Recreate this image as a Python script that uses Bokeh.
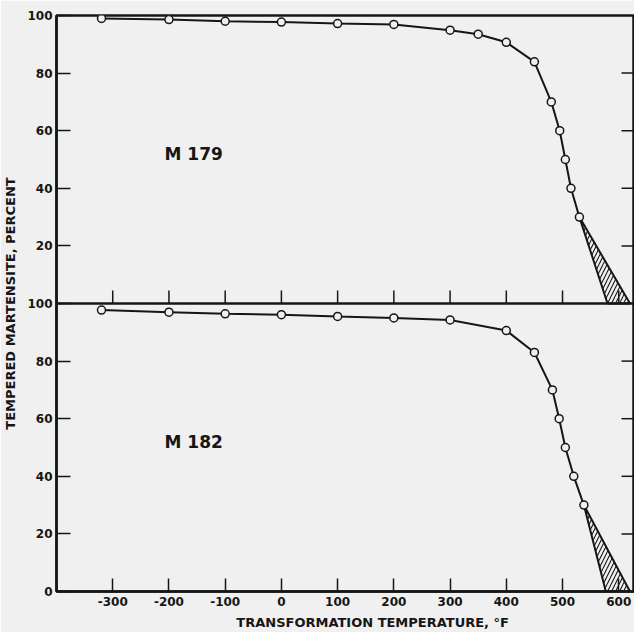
import math
from bokeh.plotting import figure
from bokeh.models import Range1d, FixedTicker, Span, Label
from bokeh.embed import file_html
from bokeh.resources import INLINE

# ---- data ----
m179_temp = [-320, -200, -100, 0, 100, 200, 300, 350, 400, 450, 480, 495, 505, 515, 530]
m179_pct = [99.0, 98.6, 98.0, 97.7, 97.2, 96.9, 94.9, 93.5, 90.7, 83.9, 70.0, 60.0, 50.0, 40.0, 30.0]
m182_temp = [-320, -200, -100, 0, 100, 200, 300, 400, 450, 482, 494, 505, 520, 538]
m182_pct = [97.7, 97.0, 96.4, 96.1, 95.5, 95.0, 94.3, 90.6, 83.0, 70.0, 60.0, 50.0, 40.0, 30.0]

m179_hatch_temp = [530, 580, 620]
m179_hatch_pct = [30, 0, 0]
m182_hatch_temp = [538, 577, 620]
m182_hatch_pct = [30, 0, 0]

x_ticks = [-300, -200, -100, 0, 100, 200, 300, 400, 500, 600]
y_ticks = [0, 20, 40, 60, 80, 100, 120, 140, 160, 180, 200]
y_tick_labels = ["0", "20", "40", "60", "80", "100", "20", "40", "60", "80", "100"]
right_ticks = [20, 40, 60, 80, 120, 140, 160, 180]

X_START, X_END = -400, 628

BG = "#f0f0f0"
INK = "#161616"
FONT = "DejaVu Sans"

p = figure(width=634, height=632, x_range=Range1d(X_START, X_END), y_range=Range1d(0, 200),
           output_backend="svg", toolbar_location=None,
           min_border_left=53, min_border_top=15, min_border_bottom=38, min_border_right=0)
p.extra_y_ranges = {"top": Range1d(-100, 100)}
p.background_fill_color = BG
p.border_fill_color = BG
p.outline_line_color = INK
p.outline_line_width = 2.5
p.grid.visible = False

# axes
xa = p.xaxis[0]
xa.ticker = FixedTicker(ticks=x_ticks)
xa.major_label_overrides = {t: str(t) for t in x_ticks}
xa.major_tick_in = 13
xa.major_tick_out = 0
xa.minor_tick_line_color = None
xa.axis_line_width = 2.5
xa.axis_line_color = INK
xa.major_tick_line_width = 1.5
xa.major_tick_line_color = INK
xa.major_label_standoff = 5
xa.major_label_text_font = FONT
xa.major_label_text_font_style = "bold"
xa.major_label_text_font_size = "12px"
xa.major_label_text_color = INK
xa.axis_label = "\u00a0" * 13 + "TRANSFORMATION  TEMPERATURE, °F"
xa.axis_label_text_font = FONT
xa.axis_label_text_font_style = "bold"
xa.axis_label_text_font_size = "13px"
xa.axis_label_text_color = INK
xa.axis_label_standoff = 6

ya = p.yaxis[0]
ya.ticker = FixedTicker(ticks=y_ticks)
ya.major_label_overrides = dict(zip(y_ticks, y_tick_labels))
ya.major_tick_in = 14
ya.major_tick_out = 0
ya.minor_tick_line_color = None
ya.axis_line_width = 2.5
ya.axis_line_color = INK
ya.major_tick_line_width = 1.5
ya.major_tick_line_color = INK
ya.major_label_standoff = 4
ya.major_label_text_font = FONT
ya.major_label_text_font_style = "bold"
ya.major_label_text_font_size = "12px"
ya.major_label_text_color = INK
ya.axis_label = "TEMPERED MARTENSITE, PERCENT"
ya.axis_label_text_font = FONT
ya.axis_label_text_font_style = "bold"
ya.axis_label_text_font_size = "13px"
ya.axis_label_text_color = INK
ya.axis_label_standoff = 6

# inward ticks on the right edge (both panels)
p.ray(x=[X_END] * len(right_ticks), y=right_ticks, length=13, length_units="screen",
      angle=math.pi, line_color=INK, line_width=1.5)

# panel divider
p.add_layout(Span(location=100, dimension="width", line_color=INK, line_width=2.5))

# inward x ticks at bottom of upper panel
p.ray(x=x_ticks, y=[0] * len(x_ticks), y_range_name="top", length=13, length_units="screen",
      angle=math.pi / 2, line_color=INK, line_width=1.5)

# hatched extrapolation regions
p.patch(m179_hatch_temp, m179_hatch_pct, y_range_name="top", fill_color=None,
        hatch_pattern="/", hatch_color=INK, hatch_scale=8, hatch_weight=1.1,
        line_color=INK, line_width=2)
p.patch(m182_hatch_temp, m182_hatch_pct, fill_color=None,
        hatch_pattern="/", hatch_color=INK, hatch_scale=8, hatch_weight=1.1,
        line_color=INK, line_width=2)

# curves
p.line(m179_temp, m179_pct, y_range_name="top", line_color=INK, line_width=2)
p.scatter(m179_temp, m179_pct, y_range_name="top", marker="circle", size=8,
          fill_color=BG, line_color=INK, line_width=1.5)
p.line(m182_temp, m182_pct, line_color=INK, line_width=2)
p.scatter(m182_temp, m182_pct, marker="circle", size=8,
          fill_color=BG, line_color=INK, line_width=1.5)

# panel labels
p.add_layout(Label(x=-156, y=52, y_range_name="top", text="M 179", text_font=FONT,
                   text_font_style="bold", text_font_size="17px", text_color=INK,
                   text_align="center", text_baseline="middle"))
p.add_layout(Label(x=-156, y=52, text="M 182", text_font=FONT,
                   text_font_style="bold", text_font_size="17px", text_color=INK,
                   text_align="center", text_baseline="middle"))

open("out.html", "w").write(file_html(p, INLINE))
